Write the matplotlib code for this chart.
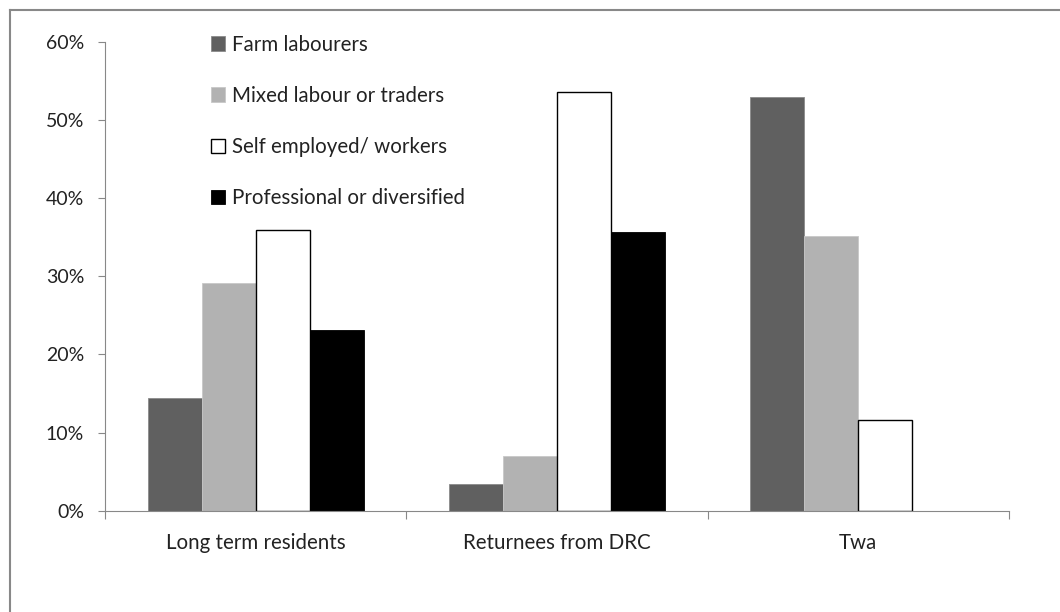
import numpy as np
import matplotlib
matplotlib.use("Agg")
import matplotlib.pyplot as plt
from matplotlib.patches import Patch
from matplotlib.ticker import PercentFormatter
from matplotlib.lines import Line2D

categories = ["Long term residents", "Returnees from DRC", "Twa"]
series_names = ["Farm labourers", "Mixed labour or traders",
                "Self employed/ workers", "Professional or diversified"]
farm = [14.4, 3.45, 52.9]
mixed = [29.1, 7.0, 35.2]
self_emp = [35.9, 53.6, 11.6]
professional = [23.1, 35.6, 0.0]

plt.rcParams["font.family"] = ["Lato", "DejaVu Sans"]

fig = plt.figure(figsize=(10.6, 6.12), dpi=100)
ax = fig.add_axes([0.0991, 0.1655, 0.8528, 0.7664])

styles = [
    dict(facecolor="#606060", edgecolor="#8a8a8a", linewidth=0.6),
    dict(facecolor="#b2b2b2", edgecolor="#c8c8c8", linewidth=0.6),
    dict(facecolor="white", edgecolor="black", linewidth=1.0),
    dict(facecolor="black", edgecolor="black", linewidth=0.6),
]
data = [farm, mixed, self_emp, professional]
w = 0.179
x = np.arange(len(categories)) + 0.5
for i, (vals, st) in enumerate(zip(data, styles)):
    ax.bar(x + (i - 1.5) * w, vals, width=w, **st)

ax.set_xlim(0, 3)
ax.set_ylim(0, 60)
ax.set_yticks(np.arange(0, 61, 10))
ax.yaxis.set_major_formatter(PercentFormatter(decimals=0))
ax.set_xticks([0, 1, 2, 3])
ax.set_xticklabels([])
ax.set_xticks(x, minor=True)
ax.set_xticklabels(categories, minor=True)
ax.tick_params(axis="x", which="minor", length=0, pad=16, labelsize=14.8, labelcolor="#222222")
ax.tick_params(axis="x", which="major", length=6, direction="out", color="#888888")
ax.tick_params(axis="y", length=5, color="#888888", pad=10, labelsize=14, labelcolor="#222222")
for s in ["top", "right"]:
    ax.spines[s].set_visible(False)
for s in ["left", "bottom"]:
    ax.spines[s].set_color("#888888")

handles = [Patch(**st) for st in styles]
leg = ax.legend(handles, series_names, loc="upper left", bbox_to_anchor=(0.0967, 1.054),
                frameon=False, fontsize=14.8, labelspacing=1.51, handlelength=0.7,
                handleheight=0.7, handletextpad=0.3)
for t in leg.get_texts():
    t.set_color("#222222")

# outer frame (left and top edges only, as in the cropped source)
fig.add_artist(Line2D([0.0094, 0.0094], [0, 0.984], color="#888888", linewidth=1.5,
                      transform=fig.transFigure))
fig.add_artist(Line2D([0.0094, 1.0], [0.984, 0.984], color="#888888", linewidth=1.5,
                      transform=fig.transFigure))

fig.savefig("out.png", dpi=100)
